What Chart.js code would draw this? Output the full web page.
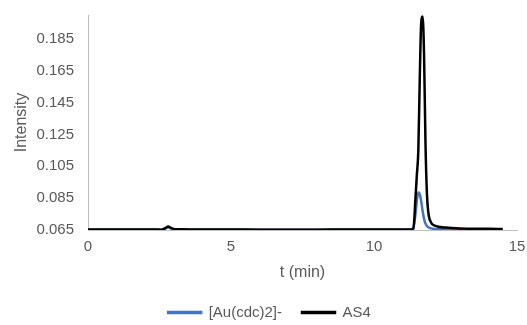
<!DOCTYPE html>
<html>
<head>
<meta charset="utf-8">
<script src="https://cdn.jsdelivr.net/npm/chart.js@4.4.0/dist/chart.umd.min.js"></script>
<style>
  body { margin: 0; background: #fff; }
  #wrap { width: 527px; height: 325px; }
</style>
</head>
<body>
<div id="wrap"><canvas id="chart" width="527" height="325"></canvas></div>
<script>
// time axis (min), shared by both series
const times = [0, 1, 2, 2.4, 2.55, 2.7, 2.8, 2.9, 3.05, 3.3, 4, 5, 6, 7, 8, 9, 10, 11, 11.3, 11.38, 11.45, 11.5, 11.55, 11.6, 11.65, 11.7, 11.75, 11.8, 11.85, 11.9, 12.0, 12.1, 12.25, 12.5, 13, 13.5, 14, 14.5];

const auCdc = [0.0652, 0.0652, 0.0652, 0.0651, 0.0648, 0.0658, 0.0668, 0.0660, 0.0653, 0.0652, 0.0652, 0.0652, 0.0651, 0.0651, 0.0651, 0.0652, 0.0652, 0.0652, 0.0653, 0.0670, 0.0750, 0.0840, 0.0885, 0.0875, 0.0830, 0.0770, 0.0720, 0.0690, 0.0675, 0.0667, 0.0660, 0.0657, 0.0655, 0.0654, 0.0653, 0.0653, 0.0652, 0.0652];

const as4 = [0.0653, 0.0653, 0.0653, 0.0653, 0.0652, 0.0662, 0.0672, 0.0663, 0.0655, 0.0654, 0.0653, 0.0653, 0.0652, 0.0652, 0.0652, 0.0653, 0.0653, 0.0653, 0.0653, 0.0660, 0.0850, 0.1000, 0.1150, 0.1600, 0.1950, 0.1990, 0.1750, 0.1200, 0.0880, 0.0760, 0.0695, 0.0680, 0.0670, 0.0665, 0.0660, 0.0658, 0.0658, 0.0656];

const yTicks = [0.065, 0.085, 0.105, 0.125, 0.145, 0.165, 0.185];
const xTicks = [0, 5, 10, 15];

const tickFont = { family: "'Liberation Sans', Arial, sans-serif", size: 15 };
const titleFont = { family: "'Liberation Sans', Arial, sans-serif", size: 16 };
const textColor = "#595959";

function toPoints(values) {
    return times.map((t, i) => ({ x: t, y: values[i] }));
}

// nudge the legend a bit to the right, like the original
const legendShift = {
    id: "legendShift",
    afterLayout(chart) {
        chart.legend.left += 22;
    }
};

new Chart(document.getElementById("chart"), {
    type: "line",
    data: {
        datasets: [
            { label: "[Au(cdc)2]-", data: toPoints(auCdc), borderColor: "#4472C4", backgroundColor: "#4472C4", borderWidth: 2.5, order: 1 },
            { label: "AS4", data: toPoints(as4), borderColor: "#000000", backgroundColor: "#000000", borderWidth: 2.5, order: 0 }
        ]
    },
    plugins: [legendShift],
    options: {
        responsive: false,
        animation: false,
        layout: { padding: { top: 15, right: 10, left: 0, bottom: -5 } },
        elements: {
            point: { radius: 0 },
            line: { cubicInterpolationMode: "monotone" }
        },
        plugins: {
            tooltip: { enabled: false },
            legend: {
                position: "bottom",
                labels: {
                    sort: (a, b) => a.datasetIndex - b.datasetIndex,
                    boxWidth: 33,
                    boxHeight: 1,
                    padding: 20,
                    color: textColor,
                    font: tickFont
                }
            }
        },
        scales: {
            x: {
                type: "linear",
                min: 0,
                max: 15,
                afterBuildTicks: s => { s.ticks = xTicks.map(v => ({ value: v })); },
                grid: { display: false, drawTicks: false },
                border: { color: "#bfbfbf", width: 1 },
                ticks: { color: textColor, font: tickFont, padding: 8, maxRotation: 0 },
                title: { display: true, text: "t (min)", color: textColor, font: titleFont, padding: { top: 6, bottom: 3 } },
                afterFit: s => { s.height = 55; s.paddingLeft = 0; s.paddingRight = 0; }
            },
            y: {
                min: 0.065,
                max: 0.2,
                afterBuildTicks: s => { s.ticks = yTicks.map(v => ({ value: v })); },
                grid: { display: false, drawTicks: false },
                border: { color: "#bfbfbf", width: 1 },
                ticks: { color: textColor, font: tickFont, padding: 14, callback: v => v.toFixed(3) },
                title: { display: true, text: "Intensity", color: textColor, font: titleFont, padding: { top: 12, bottom: 0 } },
                afterFit: s => { s.width = 88; s.paddingTop = 0; s.paddingBottom = 0; }
            }
        }
    }
});
</script>
</body>
</html>
